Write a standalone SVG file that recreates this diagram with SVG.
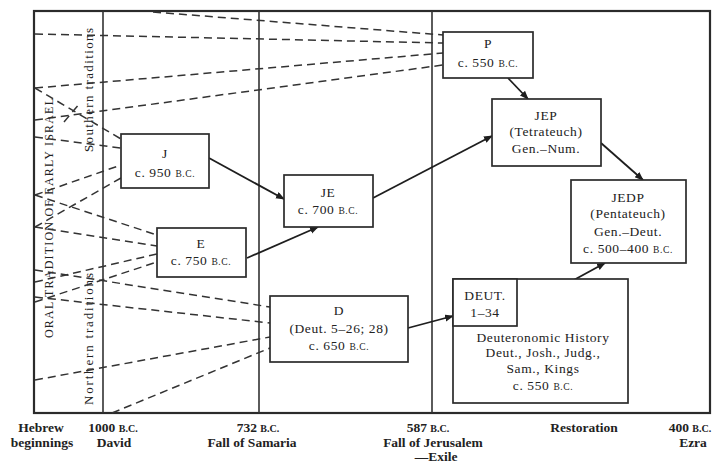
<svg xmlns="http://www.w3.org/2000/svg" width="712" height="464" viewBox="0 0 712 464">
<style>
.frame{fill:none;stroke:#2b2b2b;stroke-width:2.2}
.vl{stroke:#333;stroke-width:1.6}
.dash{fill:none;stroke:#333;stroke-width:1.5;stroke-dasharray:8 5}
.box{fill:#fff;stroke:#2b2b2b;stroke-width:1.7}
.arr{fill:none;stroke:#1e1e1e;stroke-width:1.8;marker-end:url(#ah)}
.t{font-family:"Liberation Serif","Times New Roman",serif;font-size:13.5px;fill:#222;text-anchor:middle;letter-spacing:0.6px}
.sc{font-size:9.5px}
.lb{font-family:"Liberation Serif","Times New Roman",serif;font-size:13.5px;font-weight:bold;fill:#222;text-anchor:middle}
.rt{font-family:"Liberation Serif","Times New Roman",serif;fill:#222;text-anchor:middle}
</style>
<defs>
<marker id="ah" markerWidth="9" markerHeight="8" refX="8" refY="3.5" orient="auto" markerUnits="userSpaceOnUse">
<path d="M0,0 L9,3.5 L0,7 z" fill="#1e1e1e"/>
</marker>
</defs>
<rect width="712" height="464" fill="#fff"/>
<g id="frame">
<rect class="frame" x="34" y="11" width="676" height="402"/>
<line class="vl" x1="103" y1="11" x2="103" y2="413"/>
<line class="vl" x1="259" y1="11" x2="259" y2="413"/>
<line class="vl" x1="432" y1="11" x2="432" y2="413"/>
</g>
<g id="side-labels">
<text class="rt" font-size="12" transform="translate(52.5,218) rotate(-90)" textLength="240" lengthAdjust="spacing">ORAL TRADITION OF EARLY ISRAEL</text>
<text class="rt" font-size="13" transform="translate(92.5,90) rotate(-90)" textLength="124" lengthAdjust="spacing">Southern traditions</text>
<text class="rt" font-size="13" transform="translate(92.5,339) rotate(-90)" textLength="132" lengthAdjust="spacing">Northern traditions</text>
</g>
<g id="connectors">
<line class="dash" x1="153" y1="12" x2="443" y2="35"/>
<line class="dash" x1="35" y1="34" x2="443" y2="43"/>
<line class="dash" x1="35" y1="88" x2="443" y2="53"/>
<line class="dash" x1="35" y1="120" x2="443" y2="65"/>
<line class="dash" x1="35" y1="88" x2="121" y2="139"/>
<line class="dash" x1="35" y1="137" x2="121" y2="148"/>
<line class="dash" x1="35" y1="195" x2="121" y2="165"/>
<line class="dash" x1="35" y1="227" x2="121" y2="178"/>
<line class="dash" x1="35" y1="195" x2="157" y2="235"/>
<line class="dash" x1="35" y1="227" x2="157" y2="246"/>
<line class="dash" x1="35" y1="282" x2="157" y2="254"/>
<line class="dash" x1="35" y1="302" x2="157" y2="262"/>
<line class="dash" x1="35" y1="270" x2="270" y2="307"/>
<line class="dash" x1="35" y1="297" x2="270" y2="323"/>
<line class="dash" x1="35" y1="380" x2="270" y2="337"/>
<line class="dash" x1="112" y1="413" x2="270" y2="348"/>
<line class="dash" x1="64" y1="122" x2="80" y2="103" stroke-dasharray="none"/>
<line class="arr" x1="209" y1="158" x2="284" y2="199"/>
<line class="arr" x1="247" y1="258" x2="318" y2="227"/>
<line class="arr" x1="373" y1="198" x2="492" y2="136"/>
<line class="arr" x1="508" y1="78" x2="528" y2="99"/>
<line class="arr" x1="601" y1="143" x2="643" y2="180"/>
<line class="arr" x1="408" y1="328" x2="453" y2="316"/>
<line class="arr" x1="517" y1="311" x2="605" y2="263"/>
</g>
<g id="J">
<rect class="box" x="121" y="134" width="88" height="54"/>
<text class="t" x="165" y="157.5">J</text>
<text class="t" x="165" y="176.5">c. 950 <tspan class="sc">B.C.</tspan></text>
</g>
<g id="E">
<rect class="box" x="157" y="228" width="89" height="49"/>
<text class="t" x="201" y="247.5">E</text>
<text class="t" x="201" y="264.5">c. 750 <tspan class="sc">B.C.</tspan></text>
</g>
<g id="JE">
<rect class="box" x="284" y="175" width="89" height="52"/>
<text class="t" x="328" y="196.5">JE</text>
<text class="t" x="328" y="213.5">c. 700 <tspan class="sc">B.C.</tspan></text>
</g>
<g id="D">
<rect class="box" x="270" y="296" width="138" height="66"/>
<text class="t" x="339" y="314.5">D</text>
<text class="t" x="339" y="332.5">(Deut. 5–26; 28)</text>
<text class="t" x="339" y="349.5">c. 650 <tspan class="sc">B.C.</tspan></text>
</g>
<g id="P">
<rect class="box" x="443" y="32" width="90" height="46"/>
<text class="t" x="488" y="47.5">P</text>
<text class="t" x="488" y="66.5">c. 550 <tspan class="sc">B.C.</tspan></text>
</g>
<g id="JEP">
<rect class="box" x="492" y="99" width="109" height="67"/>
<text class="t" x="546" y="119.5">JEP</text>
<text class="t" x="546" y="135.5">(Tetrateuch)</text>
<text class="t" x="546" y="152.5">Gen.–Num.</text>
</g>
<g id="JEDP">
<rect class="box" x="571" y="180" width="115" height="83"/>
<text class="t" x="628" y="201.5">JEDP</text>
<text class="t" x="628" y="217.5">(Pentateuch)</text>
<text class="t" x="628" y="235.5">Gen.–Deut.</text>
<text class="t" x="628" y="252.5">c. 500–400 <tspan class="sc">B.C.</tspan></text>
</g>
<g id="DtrH">
<rect class="box" x="453" y="279" width="175" height="124"/>
<rect class="box" x="453" y="279" width="64" height="47"/>
<text class="t" x="485" y="299.5">DEUT.</text>
<text class="t" x="485" y="316.5">1–34</text>
<text class="t" x="543" y="341.5">Deuteronomic History</text>
<text class="t" x="543" y="356.5">Deut., Josh., Judg.,</text>
<text class="t" x="543" y="372.5">Sam., Kings</text>
<text class="t" x="543" y="389.5">c. 550 <tspan class="sc">B.C.</tspan></text>
</g>
<g id="timeline-labels">
<text class="lb" x="41" y="432">Hebrew</text>
<text class="lb" x="42" y="447">beginnings</text>
<text class="lb" x="113" y="432">1000 <tspan font-size="10">B.C.</tspan></text>
<text class="lb" x="114" y="447">David</text>
<text class="lb" x="258" y="432">732 <tspan font-size="10">B.C.</tspan></text>
<text class="lb" x="252" y="447">Fall of Samaria</text>
<text class="lb" x="428" y="432">587 <tspan font-size="10">B.C.</tspan></text>
<text class="lb" x="433" y="447">Fall of Jerusalem</text>
<text class="lb" x="436" y="460.5">—Exile</text>
<text class="lb" x="584" y="432">Restoration</text>
<text class="lb" x="690" y="432">400 <tspan font-size="10">B.C.</tspan></text>
<text class="lb" x="693" y="447">Ezra</text>
</g>
</svg>
